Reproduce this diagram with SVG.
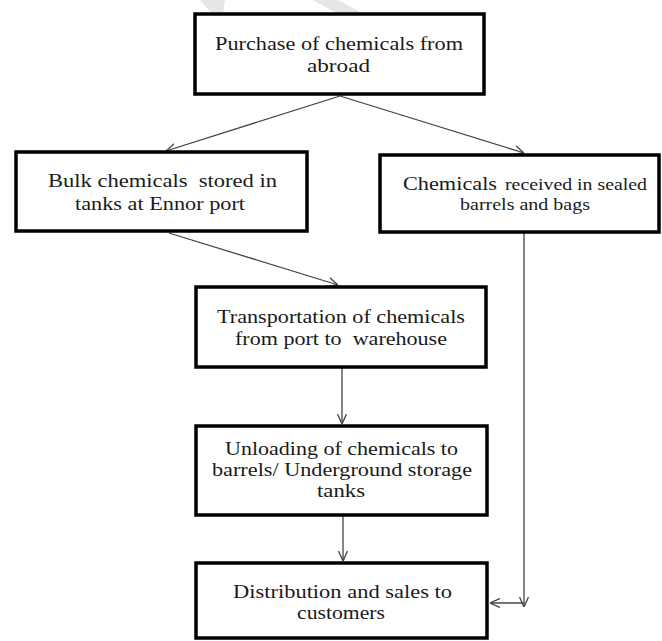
<svg xmlns="http://www.w3.org/2000/svg" width="662" height="641" viewBox="0 0 662 641">
<style>
.box{fill:#fff;stroke:#000;stroke-width:3.5}
.t{font-family:"Liberation Serif","DejaVu Serif",serif;font-size:18px;fill:#1a1a1a}
.s{font-size:16px}
.c{fill:none;stroke:#444;stroke-width:1.3}
.wm{fill:#e6e6e6}
</style>
<defs>
<marker id="ah" viewBox="0 0 10 10" refX="10" refY="5" markerWidth="10" markerHeight="10" markerUnits="userSpaceOnUse" orient="auto">
<path d="M0,0.5 L10,5 L0,9.5" fill="none" stroke="#444" stroke-width="1.3"/>
</marker>
</defs>
<rect width="662" height="641" fill="#fff"/>
<polygon class="wm" points="200,0 225,0 223,14 212,14"/>
<polygon class="wm" points="313,0 338,0 364,14 338,14"/>
<g id="connectors">
<line class="c" x1="340" y1="96" x2="166" y2="151" marker-end="url(#ah)"/>
<line class="c" x1="340" y1="96" x2="524" y2="153" marker-end="url(#ah)"/>
<line class="c" x1="169" y1="233" x2="338" y2="285" marker-end="url(#ah)"/>
<line class="c" x1="342" y1="368" x2="342" y2="424" marker-end="url(#ah)"/>
<line class="c" x1="343" y1="516" x2="343" y2="561" marker-end="url(#ah)"/>
<line class="c" x1="524" y1="233" x2="524" y2="607" marker-end="url(#ah)"/>
<line class="c" x1="524" y1="603" x2="490" y2="603" marker-end="url(#ah)"/>
</g>
<g id="n1">
<rect class="box" x="195" y="14" width="289" height="80"/>
<text class="t" x="215" y="50" textLength="248" lengthAdjust="spacingAndGlyphs">Purchase of chemicals from</text>
<text class="t" x="307" y="72" textLength="63" lengthAdjust="spacingAndGlyphs">abroad</text>
</g>
<g id="n2">
<rect class="box" x="16" y="152" width="291" height="79"/>
<text class="t" x="48" y="187" textLength="229" lengthAdjust="spacingAndGlyphs" xml:space="preserve">Bulk chemicals  stored in</text>
<text class="t" x="75" y="210" textLength="170" lengthAdjust="spacingAndGlyphs">tanks at Ennor port</text>
</g>
<g id="n3">
<rect class="box" x="380" y="155" width="279" height="77"/>
<text class="t" y="190"><tspan x="403" textLength="94" lengthAdjust="spacingAndGlyphs">Chemicals</tspan><tspan class="s" x="505" textLength="142" lengthAdjust="spacingAndGlyphs">received in sealed</tspan></text>
<text class="t s" x="460" y="210" textLength="130" lengthAdjust="spacingAndGlyphs">barrels and bags</text>
</g>
<g id="n4">
<rect class="box" x="196" y="287" width="290" height="80"/>
<text class="t" x="217" y="323" textLength="248" lengthAdjust="spacingAndGlyphs">Transportation of chemicals</text>
<text class="t" x="235" y="345" textLength="212" lengthAdjust="spacingAndGlyphs" xml:space="preserve">from port to  warehouse</text>
</g>
<g id="n5">
<rect class="box" x="196" y="426" width="291" height="89"/>
<text class="t" x="225" y="455" textLength="233" lengthAdjust="spacingAndGlyphs">Unloading of chemicals to</text>
<text class="t" x="212" y="476" textLength="260" lengthAdjust="spacingAndGlyphs">barrels/ Underground storage</text>
<text class="t" x="317" y="497" textLength="48" lengthAdjust="spacingAndGlyphs">tanks</text>
</g>
<g id="n6">
<rect class="box" x="196" y="563" width="291" height="75"/>
<text class="t" x="233" y="598" textLength="219" lengthAdjust="spacingAndGlyphs">Distribution and sales to</text>
<text class="t" x="297" y="619" textLength="88" lengthAdjust="spacingAndGlyphs">customers</text>
</g>
</svg>
